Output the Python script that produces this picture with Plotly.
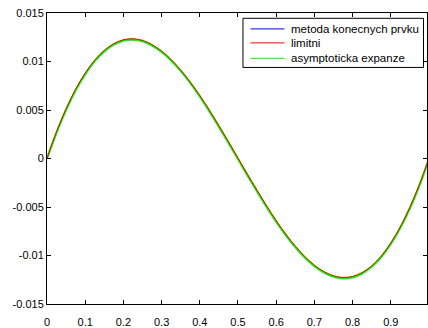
import plotly.graph_objects as go

x_vals = [0.0, 0.025, 0.05, 0.075, 0.1, 0.125, 0.15, 0.175, 0.2, 0.225, 0.25,
          0.275, 0.3, 0.325, 0.35, 0.375, 0.4, 0.425, 0.45, 0.475, 0.5,
          0.525, 0.55, 0.575, 0.6, 0.625, 0.65, 0.675, 0.7, 0.725, 0.75,
          0.775, 0.8, 0.825, 0.85, 0.875, 0.9, 0.925, 0.95, 0.975, 1.0]

fem_vals = [0.0, 0.00272, 0.00508, 0.00709, 0.00876, 0.01010, 0.01111, 0.01180, 0.01220, 0.01230, 0.01213,
            0.01170, 0.01104, 0.01016, 0.00908, 0.00784, 0.00645, 0.00494, 0.00334, 0.00169, 0.0,
            -0.00169, -0.00334, -0.00494, -0.00645, -0.00784, -0.00908, -0.01016, -0.01104, -0.01170, -0.01213,
            -0.01230, -0.01220, -0.01180, -0.01111, -0.01010, -0.00876, -0.00709, -0.00508, -0.00272, 0.0]

lim_vals = [0.0, 0.00276, 0.00512, 0.00713, 0.00880, 0.01014, 0.01115, 0.01184, 0.01224, 0.01234, 0.01217,
            0.01174, 0.01108, 0.01020, 0.00912, 0.00788, 0.00649, 0.00498, 0.00338, 0.00173, 0.00004,
            -0.00165, -0.00330, -0.00490, -0.00641, -0.00780, -0.00904, -0.01012, -0.01100, -0.01166, -0.01209,
            -0.01226, -0.01216, -0.01176, -0.01107, -0.01006, -0.00872, -0.00705, -0.00504, -0.00268, 0.00004]

asy_vals = [0.0, 0.00266, 0.00502, 0.00703, 0.00870, 0.01004, 0.01105, 0.01174, 0.01214, 0.01225, 0.01208,
            0.01165, 0.01099, 0.01011, 0.00903, 0.00779, 0.00640, 0.00489, 0.00329, 0.00164, -0.00005,
            -0.00174, -0.00339, -0.00499, -0.00650, -0.00789, -0.00913, -0.01021, -0.01109, -0.01175, -0.01218,
            -0.01235, -0.01225, -0.01185, -0.01116, -0.01015, -0.00881, -0.00714, -0.00513, -0.00277, -0.00005]

series_names = ["metoda konecnych prvku", "limitni", "asymptoticka expanze"]
series_colors = ["#0000ff", "#ff0000", "#00ff00"]

y_tickvals = [-0.015, -0.01, -0.005, 0, 0.005, 0.01, 0.015]
y_ticktext = ["-0.015", "-0.01", "-0.005", "0", "0.005", "0.01", "0.015"]
x_tickvals = [0, 0.1, 0.2, 0.3, 0.4, 0.5, 0.6, 0.7, 0.8, 0.9, 1.0]
x_ticktext = ["0", "0.1", "0.2", "0.3", "0.4", "0.5", "0.6", "0.7", "0.8", "0.9", "1"]

W, H = 428, 328
ML, MR, MT, MB = 47, 0, 13, 13
PW, PH = W - ML - MR, H - MT - MB

fig = go.Figure()
fig.add_trace(go.Scatter(x=x_vals, y=fem_vals, mode="lines", name=series_names[0],
                         line=dict(color=series_colors[0], width=1, shape="spline")))
fig.add_trace(go.Scatter(x=x_vals, y=asy_vals, mode="lines", name=series_names[2],
                         line=dict(color=series_colors[2], width=2.2, shape="spline")))
fig.add_trace(go.Scatter(x=x_vals, y=lim_vals, mode="lines", name=series_names[1],
                         line=dict(color=series_colors[1], width=1, shape="spline")))

font = dict(family="Liberation Sans, Arial, sans-serif", size=11, color="#000000")


def px(xp):
    return (xp - ML) / PW


def py(yp):
    return 1 - (yp - MT) / PH


shapes = [dict(type="rect", xref="paper", yref="paper",
               x0=px(243.5), x1=px(424.5), y0=py(69.5), y1=py(18.5),
               line=dict(color="black", width=1), fillcolor="white", layer="above")]
annotations = []
rows_y = [29.5, 44, 60]
for name, col, ry in zip(series_names, series_colors, rows_y):
    shapes.append(dict(type="line", xref="paper", yref="paper",
                       x0=px(251), x1=px(285), y0=py(ry), y1=py(ry),
                       line=dict(color=col, width=1), layer="above"))
    annotations.append(dict(text=name, xref="paper", yref="paper", x=px(290), y=py(ry),
                            xanchor="left", yanchor="middle", showarrow=False,
                            font=dict(family="Liberation Sans, Arial, sans-serif", size=11.5, color="#000000")))

fig.update_layout(
    width=W, height=H,
    margin=dict(l=ML, r=MR, t=MT, b=MB),
    paper_bgcolor="white", plot_bgcolor="white",
    font=font,
    showlegend=False,
    shapes=shapes,
    annotations=annotations,
    xaxis=dict(range=[0, 0.9948], tickvals=x_tickvals, ticktext=x_ticktext,
               showgrid=False, zeroline=False, showline=True, linecolor="black", linewidth=1,
               mirror="ticks", ticks="inside", ticklen=4, tickcolor="black", ticklabelstandoff=8),
    yaxis=dict(range=[-0.015, 0.015], tickvals=y_tickvals, ticktext=y_ticktext,
               showgrid=False, zeroline=False, showline=True, linecolor="black", linewidth=1,
               mirror="ticks", ticks="inside", ticklen=4, tickcolor="black"),
)

fig.write_html("out.html")
